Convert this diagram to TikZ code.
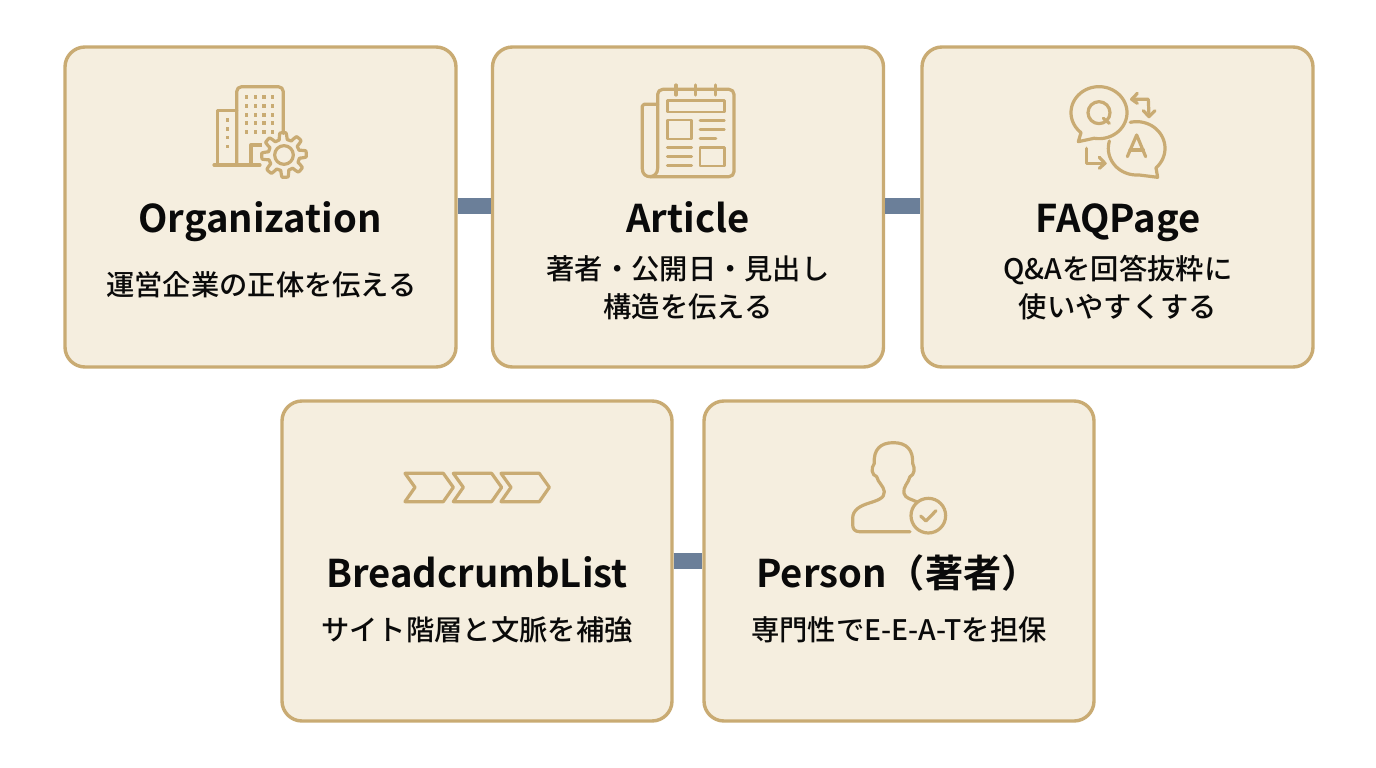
\documentclass[tikz,border=0pt]{standalone}
\usepackage{fontspec}
\setmainfont{Noto Sans CJK JP Medium}[BoldFont={Noto Sans CJK JP Bold}]
\definecolor{cardfill}{HTML}{F5EEDF}
\definecolor{cardline}{HTML}{C9AB73}
\definecolor{iconline}{HTML}{C9AB73}
\definecolor{linkbar}{HTML}{6B7F99}
\definecolor{inktext}{HTML}{0A0A0A}
\tikzset{
  card/.style={draw=cardline,fill=cardfill,line width=3.4pt,rounded corners=20pt,minimum width=#1,minimum height=320pt,inner sep=0pt,outer sep=0pt},
  card/.default=391pt,
  linkbarline/.style={draw=linkbar,line width=16pt,shorten <=1.7pt,shorten >=1.7pt},
  titletext/.style={anchor=base,text=inktext,font=\fontsize{38.2}{38}\selectfont\bfseries,inner sep=0pt},
  subtext/.style={anchor=base,text=inktext,font=\fontsize{28.3}{28}\selectfont,inner sep=0pt},
  icon/.style={draw=iconline,line width=3.2pt,line cap=round,line join=round},
  iconthin/.style={icon,line width=2.8pt},
  zoomed/.style={shift={#1},x=0.3333pt,y=-0.3333pt}
}
\begin{document}
\begin{tikzpicture}[x=1pt,y=-1pt]
\useasboundingbox (0,0) rectangle (1376,768);
\fill[white] (0,0) rectangle (1376,768);
\node[card] (org) at (260.5,207) {};
\node[card] (art) at (688,207) {};
\node[card] (faq) at (1117.5,207) {};
\node[card=390pt] (bc) at (477,561) {};
\node[card=390pt] (per) at (899,561) {};
\draw[linkbarline] ([yshift=1pt]org.east) -- ([yshift=1pt]art.west);
\draw[linkbarline] ([yshift=1pt]art.east) -- ([yshift=1pt]faq.west);
\draw[linkbarline] (bc.east) -- (per.west);

\node[titletext] (t1) at (260,232) {Organization};
\node[subtext] (s1) at (261.5,295) {運営企業の正体を伝える};
\node[titletext] (t2) at (688,232) {Article};
\node[subtext] (s2a) at (688,279) {著者・公開日・見出し};
\node[subtext] (s2b) at (688,317) {構造を伝える};
\node[titletext] (t3) at (1118,232) {FAQPage};
\node[subtext] (s3a) at (1118,279) {Q\&Aを回答抜粋に};
\node[subtext] (s3b) at (1118,317) {使いやすくする};
\node[titletext] (t4) at (477,587) {BreadcrumbList};
\node[subtext] (s4) at (477,640) {サイト階層と文脈を補強};
\node[titletext] (t5) at (898,587) {Person（著者）};
\node[subtext] (s5) at (899,640) {専門性でE-E-A-Tを担保};

% building + gear
\begin{scope}[zoomed={(190,70)}]
\draw[icon] (72,285) -- (210,285);
\draw[icon] (83,285) -- (83,122) -- (140,122);
\draw[icon,rounded corners=5pt] (140,285) -- (140,50) -- (280,50) -- (280,190);
\draw[icon] (183,285) -- (183,225) -- (215,225);
\foreach \wx in {170,197,222,248} \foreach \wy in {82,108,135,160,187}
  \fill[iconline] (\wx-5.5,\wy-5.5) rectangle (\wx+5.5,\wy+5.5);
\foreach \wy in {150,177,203,230}
  \fill[iconline] (113-5.5,\wy-5.5) rectangle (113+5.5,\wy+5.5);
\fill[cardfill] (215,195) rectangle (282,285);
\fill[cardfill] (282,255) circle[radius=60];
\draw[icon] plot[domain=0:360,samples=193] ({282+(57+10*max(-1,min(1,2.2*cos(8*\x+22.5))))*cos(\x)},{255+(57+10*max(-1,min(1,2.2*cos(8*\x+22.5))))*sin(\x)}) -- cycle;
\draw[icon] (282,255) circle[radius=28];
\end{scope}

% newspaper
\begin{scope}[zoomed={(620,70)}]
\draw[icon,rounded corners=5pt] (113,295) -- (113,58) -- (342,58) -- (342,320) -- (90,320);
\draw[icon] (113,103) -- (72,103) -- (67,108) -- (67,297) .. controls (67,328) and (113,328) .. (113,295);
\foreach \rx in {168,227,286} \draw[icon] (\rx,45) -- (\rx,75);
\draw[iconthin] (142,92) rectangle (313,126);
\draw[iconthin] (142,150) rectangle (215,207);
\draw[iconthin] (240,232) rectangle (313,288);
\draw[iconthin] (240,152) -- (313,152);
\draw[iconthin] (240,178) -- (313,178);
\draw[iconthin] (240,205) -- (288,205);
\draw[iconthin] (142,232) -- (215,232);
\draw[iconthin] (142,259) -- (215,259);
\draw[iconthin] (142,286) -- (215,286);
\end{scope}

% Q and A
\begin{scope}[zoomed={(1050,70)}]
\draw[icon] plot[domain=100:-230,samples=80] ({147+84*cos(\x)},{128+78*sin(\x)}) -- (85,215) -- cycle;
\draw[icon] (147,128) circle[radius=33];
\draw[icon] (160,145) -- (178,160);
\draw[icon] plot[domain=-103:47,samples=50] ({260+85*cos(\x)},{235+80*sin(\x)}) -- (323,322) -- plot[domain=86:196,samples=40] ({260+85*cos(\x)},{235+80*sin(\x)});
\draw[icon] (232,260) -- (260,195) -- (287,260);
\draw[icon] (240,240) -- (280,240);
\draw[icon] (245,88) -- (295,88) -- (297,138);
\draw[icon] (262,70) -- (245,88) -- (262,100);
\draw[icon] (280,122) -- (297,140) -- (315,122);
\draw[icon] (110,235) -- (110,280) -- (165,280);
\draw[icon] (148,262) -- (165,280) -- (148,295);
\end{scope}

% chevrons
\begin{scope}[zoomed={(390,450)}]
\foreach \cx in {0,145,288}
  \draw[icon,line width=3.2pt] (45+\cx,70) -- (160+\cx,70) -- (190+\cx,112) -- (160+\cx,155) -- (45+\cx,155) -- (75+\cx,112) -- cycle;
\end{scope}

% person with check
\begin{scope}[zoomed={(830,430)}]
\draw[icon] (240,305) -- (88,305) .. controls (74,305) and (68,296) .. (68,284) -- (68,265) .. controls (68,240) and (90,228) .. (115,220)
 .. controls (140,212) and (165,205) .. (163,185) .. controls (160,165) and (145,160) .. (140,140)
 .. controls (125,135) and (122,115) .. (133,100) .. controls (130,60) and (150,38) .. (190,38)
 .. controls (230,38) and (250,60) .. (248,100) .. controls (256,115) and (253,135) .. (240,140)
 .. controls (235,160) and (218,170) .. (222,190) .. controls (225,205) and (245,208) .. (262,216);
\draw[icon] (295,257) circle[radius=52];
\draw[icon] (272,258) -- (288,273) -- (318,242);
\end{scope}
\end{tikzpicture}
\end{document}
